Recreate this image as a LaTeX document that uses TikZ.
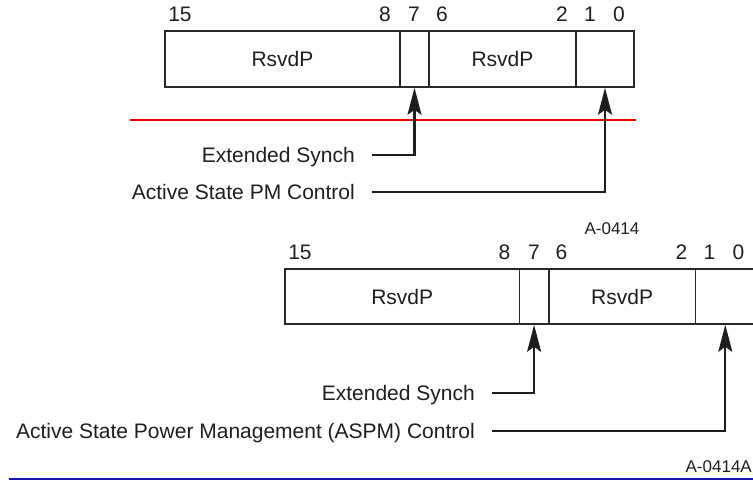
\documentclass[tikz,border=0pt]{standalone}
\usepackage{fontspec}
\setmainfont{Liberation Sans}
\usetikzlibrary{arrows.meta}
\definecolor{txt}{RGB}{30,30,30}
\definecolor{boxc}{RGB}{40,40,40}
\definecolor{redl}{RGB}{235,0,0}
\definecolor{bluel}{RGB}{20,20,175}
\begin{document}
\begin{tikzpicture}[x=1pt,y=-1pt,
  field/.style={draw=boxc,line width=1.6pt,inner sep=0pt,text=txt,
    font=\fontsize{21}{25}\selectfont},
  topf/.style={field,minimum height=56pt},
  lowf/.style={field,minimum height=55pt},
  bitno/.style={inner sep=0pt,anchor=base,text=txt,font=\fontsize{21}{25}\selectfont},
  lbl/.style={inner sep=0pt,anchor=base east,text=txt,font=\fontsize{21}{25}\selectfont},
  tag/.style={inner sep=0pt,anchor=base,text=txt,font=\fontsize{17}{21}\selectfont},
  arr/.style={draw=txt,line width=2.2pt,-{Stealth[length=27pt,width=14pt,inset=5pt]}}]
\useasboundingbox (0,0) rectangle (753,480);
\clip (0,0) rectangle (753,480);
% ---- top register ----
\node[topf,minimum width=235pt] (f15) at (282.5,59) {RsvdP};
\node[topf,minimum width=29pt]  (f7)  at (414.5,59) {};
\node[topf,minimum width=147pt] (f6)  at (502.5,59) {RsvdP};
\node[topf,minimum width=58pt]  (f1)  at (605,59) {};
\node[bitno] (t15) at (180,21) {15};
\node[bitno] (t8)  at (385,21) {8};
\node[bitno] (t7)  at (414,21) {7};
\node[bitno] (t6)  at (442,21) {6};
\node[bitno] (t2)  at (562,21) {2};
\node[bitno] (t1)  at (590,21) {1};
\node[bitno] (t0)  at (619,21) {0};
\draw[redl,line width=1.8pt] (130,120) coordinate (r0) -- (636,120) coordinate (r1);
\node[lbl] (la) at (355,162.3) {Extended Synch};
\node[lbl] (lb) at (355,199.3) {Active State PM Control};
\draw[arr] ([shift={(17pt,7.3pt)}]la.base east) -| (f7.south);
\draw[arr] ([shift={(17pt,7.3pt)}]lb.base east) -| (f1.south);
\node[tag] (tagA) at (612,234.5) {A-0414};
% ---- lower register ----
\node[lowf,minimum width=234.5pt] (g15) at (402.25,296.5) {RsvdP};
\node[lowf,minimum width=29.2pt]  (g7)  at (534.1,296.5) {};
\node[lowf,minimum width=146.9pt] (g6)  at (622.15,296.5) {RsvdP};
\node[lowf,minimum width=59.4pt]  (g1)  at (725.3,296.5) {};
\node[bitno] (u15) at (300,259) {15};
\node[bitno] (u8)  at (504.5,259) {8};
\node[bitno] (u7)  at (534,259) {7};
\node[bitno] (u6)  at (561.5,259) {6};
\node[bitno] (u2)  at (681.5,259) {2};
\node[bitno] (u1)  at (709.5,259) {1};
\node[bitno] (u0)  at (738.5,259) {0};
\node[lbl] (lc) at (475,400) {Extended Synch};
\node[lbl] (ld) at (475,438.3) {Active State Power Management (ASPM) Control};
\draw[arr] ([shift={(17pt,7.3pt)}]lc.base east) -| (g7.south);
\draw[arr] ([shift={(17pt,7.3pt)}]ld.base east) -| (g1.south);
\node[tag,anchor=base east] (tagB) at (752,472.5) {A-0414A};
\draw[bluel,line width=1.8pt] (9,479) coordinate (b0) -- (753,479) coordinate (b1);
\end{tikzpicture}
\end{document}
